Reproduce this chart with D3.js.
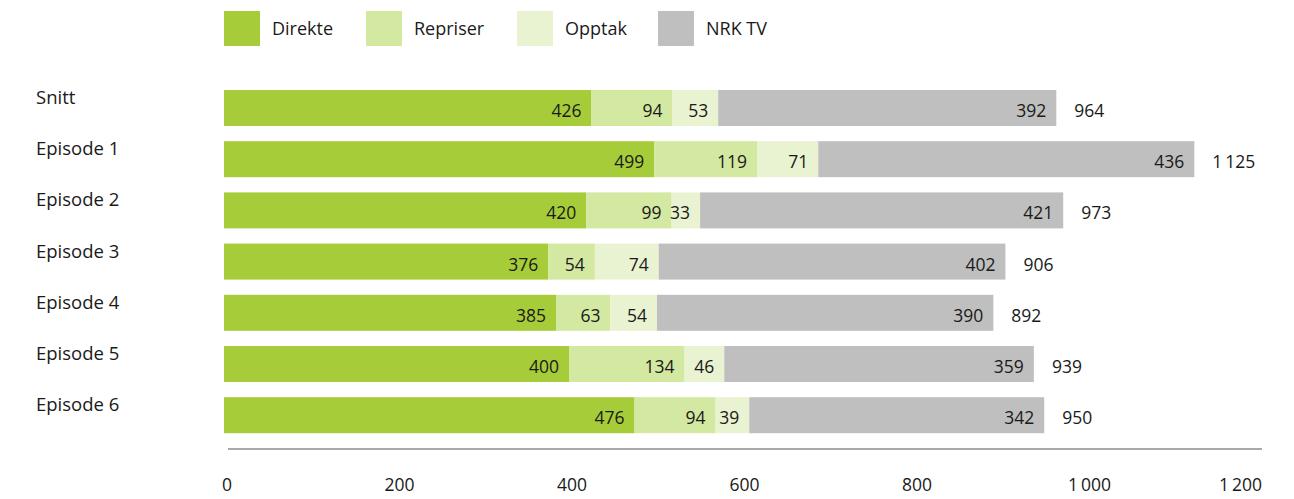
<!DOCTYPE html>
<html>
<head>
<meta charset="utf-8">
<script src="https://cdn.jsdelivr.net/npm/d3@7"></script>
<style>
  html, body { margin: 0; padding: 0; background: #fff; }
  svg { display: block; }
  text { font-family: "Open Sans", "Noto Sans", sans-serif; fill: #1a1a1a; }
</style>
</head>
<body>
<svg id="chart" width="1294" height="499"></svg>
<script>
// Viewers per broadcast, split by how the programme was watched
const categories = ["Snitt", "Episode 1", "Episode 2", "Episode 3", "Episode 4", "Episode 5", "Episode 6"];
const seriesNames = ["Direkte", "Repriser", "Opptak", "NRK TV"];
const direkte = [426, 499, 420, 376, 385, 400, 476];
const repriser = [94, 119, 99, 54, 63, 134, 94];
const opptak = [53, 71, 33, 74, 54, 46, 39];
const nrkTv = [392, 436, 421, 402, 390, 359, 342];
const totals = [964, 1125, 973, 906, 892, 939, 950];
const xTicks = [0, 200, 400, 600, 800, 1000, 1200];
const colors = ["#a6cd39", "#d3e8a0", "#e9f3d2", "#bfbfbf"];

const svg = d3.select("#chart");
const fmt = d3.formatLocale({ decimal: ",", thousands: "\u2009", grouping: [3], currency: ["", " kr"] }).format(",d");

const x = d3.scaleLinear().domain([0, 1200]).range([224, 1259]);
const y = d3.scaleBand().domain(categories).range([90, 90 + 7 * 51.2 - 15.2]).paddingInner(0.297).paddingOuter(0);

// Stack the four viewing modes
const rows = categories.map((c, i) => ({
  cat: c, Direkte: direkte[i], Repriser: repriser[i], Opptak: opptak[i], "NRK TV": nrkTv[i], total: totals[i]
}));
const stacked = d3.stack().keys(seriesNames)(rows);

const layers = svg.append("g").selectAll("g").data(stacked).join("g")
  .attr("fill", (d, i) => colors[i]);

layers.selectAll("rect").data(d => d).join("rect")
  .attr("x", d => x(d[0]))
  .attr("y", d => y(d.data.cat))
  .attr("width", d => x(d[1]) - x(d[0]))
  .attr("height", y.bandwidth());

// Segment values, right aligned inside each segment
const labels = svg.append("g");
stacked.forEach(layer => {
  labels.selectAll(null).data(layer).join("text")
    .attr("x", d => x(d[1]) - 10)
    .attr("y", d => y(d.data.cat) + 27)
    .attr("text-anchor", "end")
    .attr("font-size", 17.5)
    .text(d => fmt(d[1] - d[0]));
});

// Totals to the right of each bar
svg.append("g").selectAll("text").data(stacked[stacked.length - 1]).join("text")
  .attr("x", d => x(d[1]) + 18)
  .attr("y", d => y(d.data.cat) + 27)
  .attr("font-size", 17.5)
  .text(d => fmt(d.data.total));

// Category names
svg.append("g").selectAll("text").data(categories).join("text")
  .attr("x", 36)
  .attr("y", d => y(d) + 14)
  .attr("font-size", 18.5)
  .text(d => d);

// Bottom axis
const axis = svg.append("g").attr("transform", "translate(3,449)");
axis.append("line")
  .attr("x1", x(0) + 1).attr("x2", x(1200))
  .attr("stroke", "#555").attr("stroke-width", 1.2);
axis.selectAll("text").data(xTicks).join("text")
  .attr("x", d => x(d))
  .attr("y", 42)
  .attr("text-anchor", (d, i) => i === xTicks.length - 1 ? "end" : "middle")
  .attr("font-size", 17.5)
  .text(d => fmt(d));

// Legend
const legendX = [224, 366, 517, 658];
const legend = svg.append("g").selectAll("g").data(seriesNames).join("g")
  .attr("transform", (d, i) => `translate(${legendX[i]},11)`);
legend.append("rect").attr("width", 36).attr("height", 35).attr("fill", (d, i) => colors[i]);
legend.append("text").attr("x", 48).attr("y", 23.5).attr("font-size", 18).text(d => d);
</script>
</body>
</html>
